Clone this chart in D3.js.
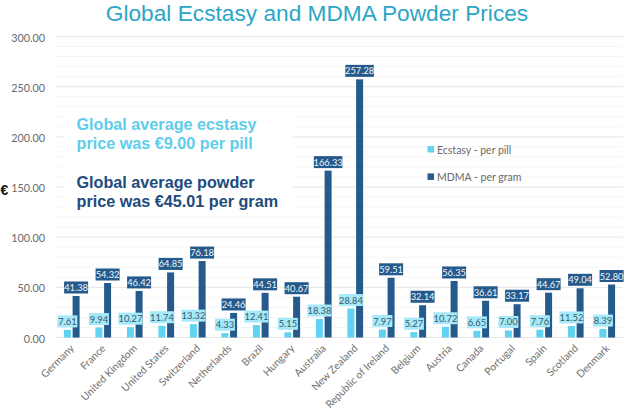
<!DOCTYPE html>
<html><head><meta charset="utf-8">
<script src="https://cdn.jsdelivr.net/npm/d3@7"></script>
<style>html,body{margin:0;padding:0;background:#fff}svg{display:block}</style>
</head><body><svg id="c" width="630" height="412"></svg>
<script>
const categories=["Germany","France","United Kingdom","United States","Switzerland","Netherlands","Brazil","Hungary","Australia","New Zealand","Republic of Ireland","Belgium","Austria","Canada","Portugal","Spain","Scotland","Denmark"];
const ecstasy=[7.61,9.94,10.27,11.74,13.32,4.33,12.41,5.15,18.38,28.84,7.97,5.27,10.72,6.65,7.00,7.76,11.52,8.39];
const mdma=[41.38,54.32,46.42,64.85,76.18,24.46,44.51,40.67,166.33,257.28,59.51,32.14,56.35,36.61,33.17,44.67,49.04,52.80];
const seriesNames=["Ecstasy - per pill","MDMA - per gram"];
const titleText="Global Ecstasy and MDMA Powder Prices";
const noteEcstasy=["Global average ecstasy","price was €9.00 per pill"];
const notePowder=["Global average powder","price was €45.01 per gram"];
const LIGHT="#5fd3f0",DARK="#255a8c",LIGHTLBL="#a6e9f8";
const bodyFont="Lato, 'Open Sans', sans-serif",headFont="'Liberation Sans', Arial, sans-serif";
const svg=d3.select("#c");
const y=d3.scaleLinear().domain([0,300]).range([337.5,36.5]);
const x=d3.scaleBand().domain(categories).range([56,623]);
const barW=7,gap=1.7;

svg.append("g").selectAll("line").data(d3.range(0,301,10)).join("line")
 .attr("x1",56).attr("x2",623).attr("y1",d=>y(d)).attr("y2",d=>y(d))
 .attr("stroke",d=>d%50===0?"#e6e6e6":"#f5f5f5").attr("stroke-width",1);

const yAxis=svg.append("g").attr("transform","translate(56,0)")
 .call(d3.axisLeft(y).tickValues(d3.range(0,301,50)).tickFormat(d3.format(".2f")).tickSize(0).tickPadding(11));
yAxis.select(".domain").remove();
yAxis.selectAll("text").attr("font-family",bodyFont).attr("font-size",10.8).attr("fill","#6a6a6a").attr("dy","0.42em");

const xAxis=svg.append("g").attr("transform","translate(0,337.5)")
 .call(d3.axisBottom(x).tickSize(0).tickPadding(0));
xAxis.select(".domain").remove();
xAxis.selectAll("text").attr("font-family",bodyFont).attr("font-size",10.4).attr("fill","#6f6f6f")
 .attr("text-anchor","end").attr("dy",0).attr("y",0)
 .attr("transform","translate(3,11.5) rotate(-45)");

svg.append("rect").attr("x",63).attr("y",112).attr("width",230).attr("height",100).attr("fill","#fff");

const lx=d=>x(d)+x.bandwidth()/2-gap/2-barW;
const dx=d=>x(d)+x.bandwidth()/2+gap/2;
const rows=categories.map((c,i)=>({c,e:ecstasy[i],m:mdma[i]}));
svg.append("g").selectAll("rect").data(rows).join("rect").attr("x",d=>dx(d.c)).attr("width",barW)
 .attr("y",d=>y(d.m)).attr("height",d=>y(0)-y(d.m)).attr("fill",DARK);
svg.append("g").selectAll("rect").data(rows).join("rect").attr("x",d=>lx(d.c)).attr("width",barW)
 .attr("y",d=>y(d.e)).attr("height",d=>y(0)-y(d.e)).attr("fill",LIGHT);

function labels(key,cx,bg,fg){
 const g=svg.append("g").selectAll("g").data(rows).join("g");
 const w=d=>d[key]>=100?28.5:(d[key]>=10?24:(key==="e"?20:23.5));
 g.append("rect").attr("x",d=>cx(d.c)+barW/2-w(d)/2).attr("y",d=>y(d[key])-14.5).attr("width",w).attr("height",12).attr("fill",bg);
 g.append("text").attr("x",d=>cx(d.c)+barW/2).attr("y",d=>y(d[key])-5).attr("text-anchor","middle")
  .attr("font-family",bodyFont).attr("font-size",9.3).attr("fill",fg).text(d=>d3.format(".2f")(d[key]));
}
labels("m",dx,DARK,"#f2f7fb");
labels("e",lx,LIGHTLBL,"#39586e");

svg.append("text").attr("x",317).attr("y",21).attr("text-anchor","middle").attr("font-family",headFont).attr("font-size",22.7).attr("fill","#2ba6c6").text(titleText);

function note(lines,base,fill){
 svg.append("g").selectAll("text").data(lines).join("text").attr("x",76.5).attr("y",(d,i)=>base+i*19.3)
  .attr("font-family",headFont).attr("font-weight","bold").attr("font-size",16.2).attr("fill",fill).text(d=>d);
}
note(noteEcstasy,130,"#5fcdea");
note(notePowder,188,"#214b7d");
svg.append("text").attr("x",0.5).attr("y",195).attr("font-family",headFont).attr("font-weight","bold").attr("font-size",14).attr("fill","#111").text("€");

const leg=svg.append("g").selectAll("g").data(seriesNames).join("g").attr("transform",(d,i)=>`translate(427.5,${146+i*27.4})`);
leg.append("rect").attr("width",6.5).attr("height",6.5).attr("fill",(d,i)=>i?DARK:LIGHT);
leg.append("text").attr("x",9.5).attr("y",7.5).attr("font-family",bodyFont).attr("font-size",10.5).attr("fill","#6a6a6a").text(d=>d);
</script></body></html>
